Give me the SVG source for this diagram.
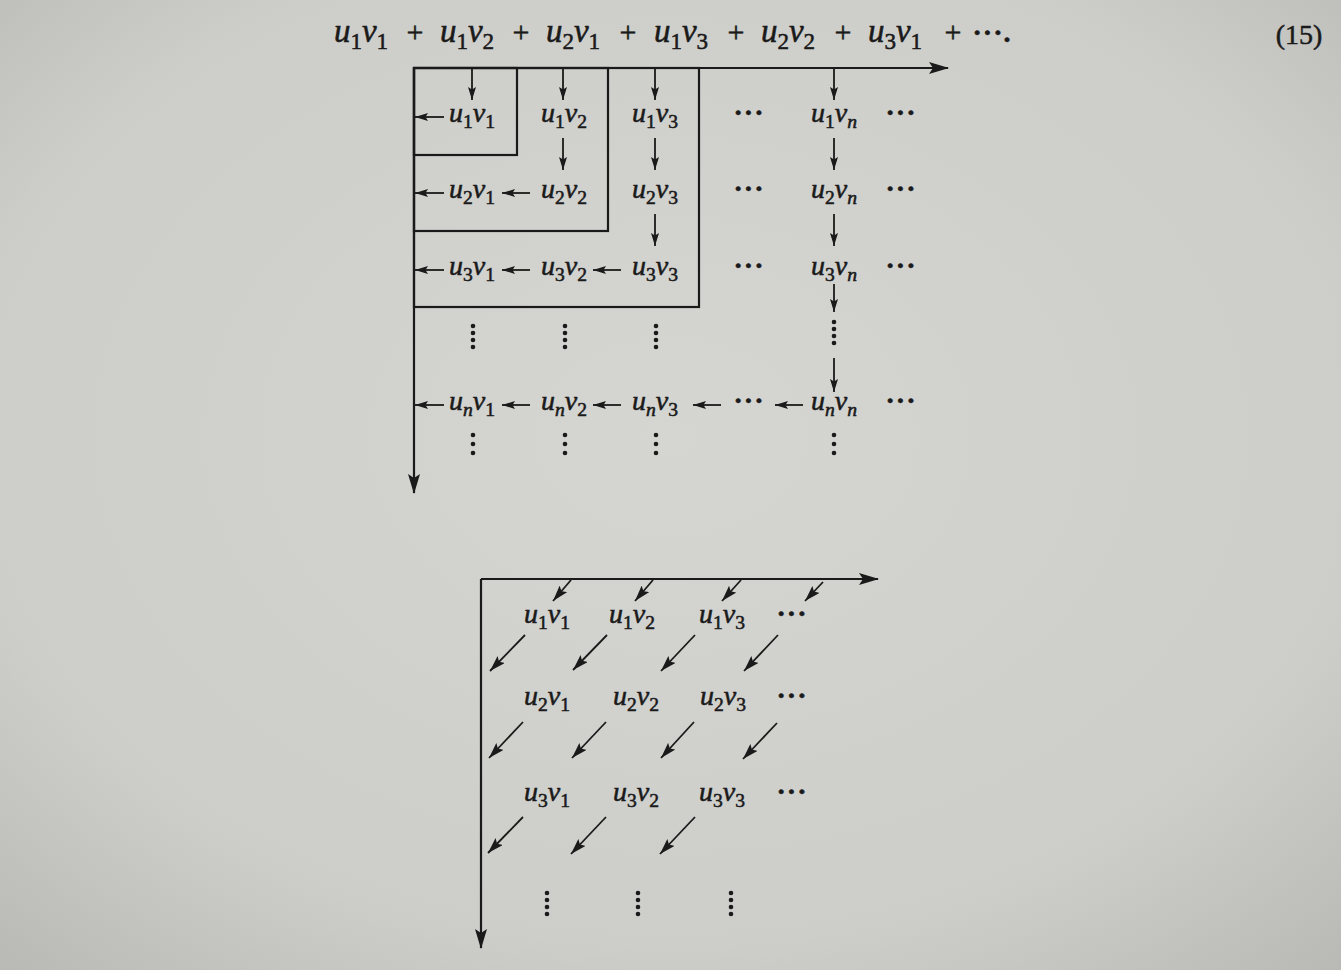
<svg xmlns="http://www.w3.org/2000/svg" width="1341" height="970" viewBox="0 0 1341 970">
<style>
.m{font-family:"Liberation Serif","Times New Roman",serif;font-style:italic;fill:#1a1a1a;stroke:#1a1a1a;stroke-width:0.55;text-anchor:middle}
.u{font-size:28px}
.top{font-size:33px}
.sub{font-style:normal;font-size:0.7em}
.subi{font-style:italic;font-size:0.7em}
.op{font-family:"Liberation Serif",serif;font-style:normal;fill:#1a1a1a;stroke:#1a1a1a;stroke-width:0.5;text-anchor:middle}
.dots{font-family:"Liberation Serif",serif;font-weight:bold;font-size:28px;fill:#1a1a1a;stroke:#1a1a1a;stroke-width:0.6;text-anchor:middle;letter-spacing:1px}
.ax{stroke:#1a1a1a;stroke-width:2.2;fill:none}
.box{stroke:#1a1a1a;stroke-width:2.2;fill:none}
.ar{stroke:#1a1a1a;stroke-width:1.8;fill:none}
.vd circle{fill:#1a1a1a}
</style>
<defs>
<radialGradient id="bg" cx="0.5" cy="0.45" r="0.75">
<stop offset="0" stop-color="#d5d5d2"/>
<stop offset="0.7" stop-color="#cdcdca"/>
<stop offset="1" stop-color="#b8b8b5"/>
</radialGradient>
<marker id="A" viewBox="0 0 20 12" markerWidth="20" markerHeight="12" refX="19" refY="6" orient="auto" markerUnits="userSpaceOnUse">
<path d="M0,0 L20,6 L0,12 L4,6 z" fill="#1a1a1a"/>
</marker>
<marker id="a" viewBox="0 0 13 8" markerWidth="13" markerHeight="8" refX="13" refY="4" orient="auto" markerUnits="userSpaceOnUse">
<path d="M0,0 L13,4 L0,8 L2.5,4 z" fill="#1a1a1a"/>
</marker>
<marker id="d" viewBox="0 0 16 10" markerWidth="16" markerHeight="10" refX="16" refY="5" orient="auto" markerUnits="userSpaceOnUse">
<path d="M0,0 L16,5 L0,10 L3,5 z" fill="#1a1a1a"/>
</marker>
</defs>
<rect width="1341" height="970" fill="url(#bg)"/>

<!-- top equation -->
<g id="equation">
<text class="m top" x="361" y="42">u<tspan class="sub" dy="7">1</tspan><tspan dy="-7">v</tspan><tspan class="sub" dy="7">1</tspan></text>
<text class="op" font-size="30" x="415" y="42">+</text>
<text class="m top" x="467" y="42">u<tspan class="sub" dy="7">1</tspan><tspan dy="-7">v</tspan><tspan class="sub" dy="7">2</tspan></text>
<text class="op" font-size="30" x="521" y="42">+</text>
<text class="m top" x="573" y="42">u<tspan class="sub" dy="7">2</tspan><tspan dy="-7">v</tspan><tspan class="sub" dy="7">1</tspan></text>
<text class="op" font-size="30" x="628" y="42">+</text>
<text class="m top" x="681" y="42">u<tspan class="sub" dy="7">1</tspan><tspan dy="-7">v</tspan><tspan class="sub" dy="7">3</tspan></text>
<text class="op" font-size="30" x="736" y="42">+</text>
<text class="m top" x="788" y="42">u<tspan class="sub" dy="7">2</tspan><tspan dy="-7">v</tspan><tspan class="sub" dy="7">2</tspan></text>
<text class="op" font-size="30" x="843" y="42">+</text>
<text class="m top" x="895" y="42">u<tspan class="sub" dy="7">3</tspan><tspan dy="-7">v</tspan><tspan class="sub" dy="7">1</tspan></text>
<text class="op" font-size="30" x="953" y="42">+</text>
<text class="dots" x="992" y="42">···.</text>
</g>
<g id="eqnum"><text class="op" font-size="28" x="1299" y="44">(15)</text></g>

<!-- upper diagram: partial-sum boxes -->
<g id="squares">
<rect class="box" x="414" y="68" width="103" height="87"/>
<rect class="box" x="414" y="68" width="194" height="163"/>
<rect class="box" x="414" y="68" width="285" height="239"/>
</g>

<g id="connectors">
<!-- axes -->
<line class="ax" x1="414" y1="68" x2="948" y2="68" marker-end="url(#A)"/>
<line class="ax" x1="414" y1="68" x2="414" y2="493" marker-end="url(#A)"/>
<line class="ax" x1="481" y1="579" x2="878" y2="579" marker-end="url(#A)"/>
<line class="ax" x1="481" y1="579" x2="481" y2="948" marker-end="url(#A)"/>
<!-- upper: down arrows -->
<line class="ar" x1="472" y1="69" x2="472" y2="100" marker-end="url(#a)"/>
<line class="ar" x1="563" y1="69" x2="563" y2="100" marker-end="url(#a)"/>
<line class="ar" x1="655" y1="69" x2="655" y2="100" marker-end="url(#a)"/>
<line class="ar" x1="834" y1="69" x2="834" y2="100" marker-end="url(#a)"/>
<line class="ar" x1="563" y1="138" x2="563" y2="170" marker-end="url(#a)"/>
<line class="ar" x1="655" y1="138" x2="655" y2="170" marker-end="url(#a)"/>
<line class="ar" x1="834" y1="138" x2="834" y2="170" marker-end="url(#a)"/>
<line class="ar" x1="655" y1="214" x2="655" y2="246" marker-end="url(#a)"/>
<line class="ar" x1="834" y1="214" x2="834" y2="246" marker-end="url(#a)"/>
<line class="ar" x1="834" y1="284" x2="834" y2="312" marker-end="url(#a)"/>
<line class="ar" x1="834" y1="358" x2="834" y2="392" marker-end="url(#a)"/>
<!-- upper: left arrows -->
<line class="ar" x1="444" y1="117" x2="415" y2="117" marker-end="url(#a)"/>
<line class="ar" x1="444" y1="193" x2="415" y2="193" marker-end="url(#a)"/>
<line class="ar" x1="530" y1="193" x2="502" y2="193" marker-end="url(#a)"/>
<line class="ar" x1="444" y1="270" x2="415" y2="270" marker-end="url(#a)"/>
<line class="ar" x1="530" y1="270" x2="502" y2="270" marker-end="url(#a)"/>
<line class="ar" x1="621" y1="270" x2="593" y2="270" marker-end="url(#a)"/>
<line class="ar" x1="444" y1="405" x2="415" y2="405" marker-end="url(#a)"/>
<line class="ar" x1="530" y1="405" x2="502" y2="405" marker-end="url(#a)"/>
<line class="ar" x1="621" y1="405" x2="593" y2="405" marker-end="url(#a)"/>
<line class="ar" x1="721" y1="405" x2="693" y2="405" marker-end="url(#a)"/>
<line class="ar" x1="803" y1="405" x2="775" y2="405" marker-end="url(#a)"/>
<!-- lower: diagonal arrows -->
<line class="ar" x1="571" y1="580" x2="553" y2="601" marker-end="url(#d)"/>
<line class="ar" x1="653" y1="580" x2="635" y2="601" marker-end="url(#d)"/>
<line class="ar" x1="741" y1="580" x2="722" y2="601" marker-end="url(#d)"/>
<line class="ar" x1="823" y1="582" x2="805" y2="601" marker-end="url(#d)"/>
<line class="ar" x1="525" y1="635" x2="490" y2="671" marker-end="url(#d)"/>
<line class="ar" x1="607" y1="635" x2="573" y2="670" marker-end="url(#d)"/>
<line class="ar" x1="695" y1="635" x2="661" y2="671" marker-end="url(#d)"/>
<line class="ar" x1="778" y1="635" x2="744" y2="671" marker-end="url(#d)"/>
<line class="ar" x1="523" y1="722" x2="489" y2="758" marker-end="url(#d)"/>
<line class="ar" x1="606" y1="722" x2="572" y2="758" marker-end="url(#d)"/>
<line class="ar" x1="694" y1="722" x2="661" y2="758" marker-end="url(#d)"/>
<line class="ar" x1="777" y1="723" x2="743" y2="759" marker-end="url(#d)"/>
<line class="ar" x1="523" y1="817" x2="488" y2="853" marker-end="url(#d)"/>
<line class="ar" x1="606" y1="817" x2="571" y2="854" marker-end="url(#d)"/>
<line class="ar" x1="695" y1="817" x2="660" y2="854" marker-end="url(#d)"/>
</g>

<!-- upper diagram nodes -->
<g id="u1v1"><text class="m u" x="472" y="122">u<tspan class="sub" dy="6">1</tspan><tspan dy="-6">v</tspan><tspan class="sub" dy="6">1</tspan></text></g>
<g id="u1v2"><text class="m u" x="564" y="122">u<tspan class="sub" dy="6">1</tspan><tspan dy="-6">v</tspan><tspan class="sub" dy="6">2</tspan></text></g>
<g id="u1v3"><text class="m u" x="655" y="122">u<tspan class="sub" dy="6">1</tspan><tspan dy="-6">v</tspan><tspan class="sub" dy="6">3</tspan></text></g>
<g id="r1dots1"><text class="dots" x="749" y="122">···</text></g>
<g id="u1vn"><text class="m u" x="834" y="122">u<tspan class="sub" dy="6">1</tspan><tspan dy="-6">v</tspan><tspan class="subi" dy="6">n</tspan></text></g>
<g id="r1dots2"><text class="dots" x="901" y="122">···</text></g>

<g id="u2v1"><text class="m u" x="472" y="198">u<tspan class="sub" dy="6">2</tspan><tspan dy="-6">v</tspan><tspan class="sub" dy="6">1</tspan></text></g>
<g id="u2v2"><text class="m u" x="564" y="198">u<tspan class="sub" dy="6">2</tspan><tspan dy="-6">v</tspan><tspan class="sub" dy="6">2</tspan></text></g>
<g id="u2v3"><text class="m u" x="655" y="198">u<tspan class="sub" dy="6">2</tspan><tspan dy="-6">v</tspan><tspan class="sub" dy="6">3</tspan></text></g>
<g id="r2dots1"><text class="dots" x="749" y="198">···</text></g>
<g id="u2vn"><text class="m u" x="834" y="198">u<tspan class="sub" dy="6">2</tspan><tspan dy="-6">v</tspan><tspan class="subi" dy="6">n</tspan></text></g>
<g id="r2dots2"><text class="dots" x="901" y="198">···</text></g>

<g id="u3v1"><text class="m u" x="472" y="275">u<tspan class="sub" dy="6">3</tspan><tspan dy="-6">v</tspan><tspan class="sub" dy="6">1</tspan></text></g>
<g id="u3v2"><text class="m u" x="564" y="275">u<tspan class="sub" dy="6">3</tspan><tspan dy="-6">v</tspan><tspan class="sub" dy="6">2</tspan></text></g>
<g id="u3v3"><text class="m u" x="655" y="275">u<tspan class="sub" dy="6">3</tspan><tspan dy="-6">v</tspan><tspan class="sub" dy="6">3</tspan></text></g>
<g id="r3dots1"><text class="dots" x="749" y="275">···</text></g>
<g id="u3vn"><text class="m u" x="834" y="275">u<tspan class="sub" dy="6">3</tspan><tspan dy="-6">v</tspan><tspan class="subi" dy="6">n</tspan></text></g>
<g id="r3dots2"><text class="dots" x="901" y="275">···</text></g>

<g id="unv1"><text class="m u" x="472" y="410">u<tspan class="subi" dy="6">n</tspan><tspan dy="-6">v</tspan><tspan class="sub" dy="6">1</tspan></text></g>
<g id="unv2"><text class="m u" x="564" y="410">u<tspan class="subi" dy="6">n</tspan><tspan dy="-6">v</tspan><tspan class="sub" dy="6">2</tspan></text></g>
<g id="unv3"><text class="m u" x="655" y="410">u<tspan class="subi" dy="6">n</tspan><tspan dy="-6">v</tspan><tspan class="sub" dy="6">3</tspan></text></g>
<g id="rndots1"><text class="dots" x="749" y="410">···</text></g>
<g id="unvn"><text class="m u" x="834" y="410">u<tspan class="subi" dy="6">n</tspan><tspan dy="-6">v</tspan><tspan class="subi" dy="6">n</tspan></text></g>
<g id="rndots2"><text class="dots" x="901" y="410">···</text></g>

<g id="vdots-upper" class="vd">
<circle cx="473" cy="326" r="2.3"/><circle cx="473" cy="333" r="2.3"/><circle cx="473" cy="340" r="2.3"/><circle cx="473" cy="347" r="2.3"/>
<circle cx="565" cy="326" r="2.3"/><circle cx="565" cy="333" r="2.3"/><circle cx="565" cy="340" r="2.3"/><circle cx="565" cy="347" r="2.3"/>
<circle cx="656" cy="326" r="2.3"/><circle cx="656" cy="333" r="2.3"/><circle cx="656" cy="340" r="2.3"/><circle cx="656" cy="347" r="2.3"/>
<circle cx="834" cy="322" r="2.3"/><circle cx="834" cy="329" r="2.3"/><circle cx="834" cy="336" r="2.3"/><circle cx="834" cy="343" r="2.3"/>
<circle cx="473" cy="435" r="2.3"/><circle cx="473" cy="444" r="2.3"/><circle cx="473" cy="453" r="2.3"/>
<circle cx="565" cy="435" r="2.3"/><circle cx="565" cy="444" r="2.3"/><circle cx="565" cy="453" r="2.3"/>
<circle cx="656" cy="435" r="2.3"/><circle cx="656" cy="444" r="2.3"/><circle cx="656" cy="453" r="2.3"/>
<circle cx="834" cy="435" r="2.3"/><circle cx="834" cy="444" r="2.3"/><circle cx="834" cy="453" r="2.3"/>
</g>

<!-- lower diagram nodes -->
<g id="d-u1v1"><text class="m u" x="547" y="623">u<tspan class="sub" dy="6">1</tspan><tspan dy="-6">v</tspan><tspan class="sub" dy="6">1</tspan></text></g>
<g id="d-u1v2"><text class="m u" x="632" y="623">u<tspan class="sub" dy="6">1</tspan><tspan dy="-6">v</tspan><tspan class="sub" dy="6">2</tspan></text></g>
<g id="d-u1v3"><text class="m u" x="722" y="623">u<tspan class="sub" dy="6">1</tspan><tspan dy="-6">v</tspan><tspan class="sub" dy="6">3</tspan></text></g>
<g id="d-r1dots"><text class="dots" x="792" y="623">···</text></g>

<g id="d-u2v1"><text class="m u" x="547" y="705">u<tspan class="sub" dy="6">2</tspan><tspan dy="-6">v</tspan><tspan class="sub" dy="6">1</tspan></text></g>
<g id="d-u2v2"><text class="m u" x="636" y="705">u<tspan class="sub" dy="6">2</tspan><tspan dy="-6">v</tspan><tspan class="sub" dy="6">2</tspan></text></g>
<g id="d-u2v3"><text class="m u" x="723" y="705">u<tspan class="sub" dy="6">2</tspan><tspan dy="-6">v</tspan><tspan class="sub" dy="6">3</tspan></text></g>
<g id="d-r2dots"><text class="dots" x="792" y="705">···</text></g>

<g id="d-u3v1"><text class="m u" x="547" y="801">u<tspan class="sub" dy="6">3</tspan><tspan dy="-6">v</tspan><tspan class="sub" dy="6">1</tspan></text></g>
<g id="d-u3v2"><text class="m u" x="636" y="801">u<tspan class="sub" dy="6">3</tspan><tspan dy="-6">v</tspan><tspan class="sub" dy="6">2</tspan></text></g>
<g id="d-u3v3"><text class="m u" x="722" y="801">u<tspan class="sub" dy="6">3</tspan><tspan dy="-6">v</tspan><tspan class="sub" dy="6">3</tspan></text></g>
<g id="d-r3dots"><text class="dots" x="792" y="801">···</text></g>

<g id="vdots-lower" class="vd">
<circle cx="547" cy="893" r="2.3"/><circle cx="547" cy="900" r="2.3"/><circle cx="547" cy="907" r="2.3"/><circle cx="547" cy="914" r="2.3"/>
<circle cx="638" cy="893" r="2.3"/><circle cx="638" cy="900" r="2.3"/><circle cx="638" cy="907" r="2.3"/><circle cx="638" cy="914" r="2.3"/>
<circle cx="731" cy="893" r="2.3"/><circle cx="731" cy="900" r="2.3"/><circle cx="731" cy="907" r="2.3"/><circle cx="731" cy="914" r="2.3"/>
</g>
</svg>
